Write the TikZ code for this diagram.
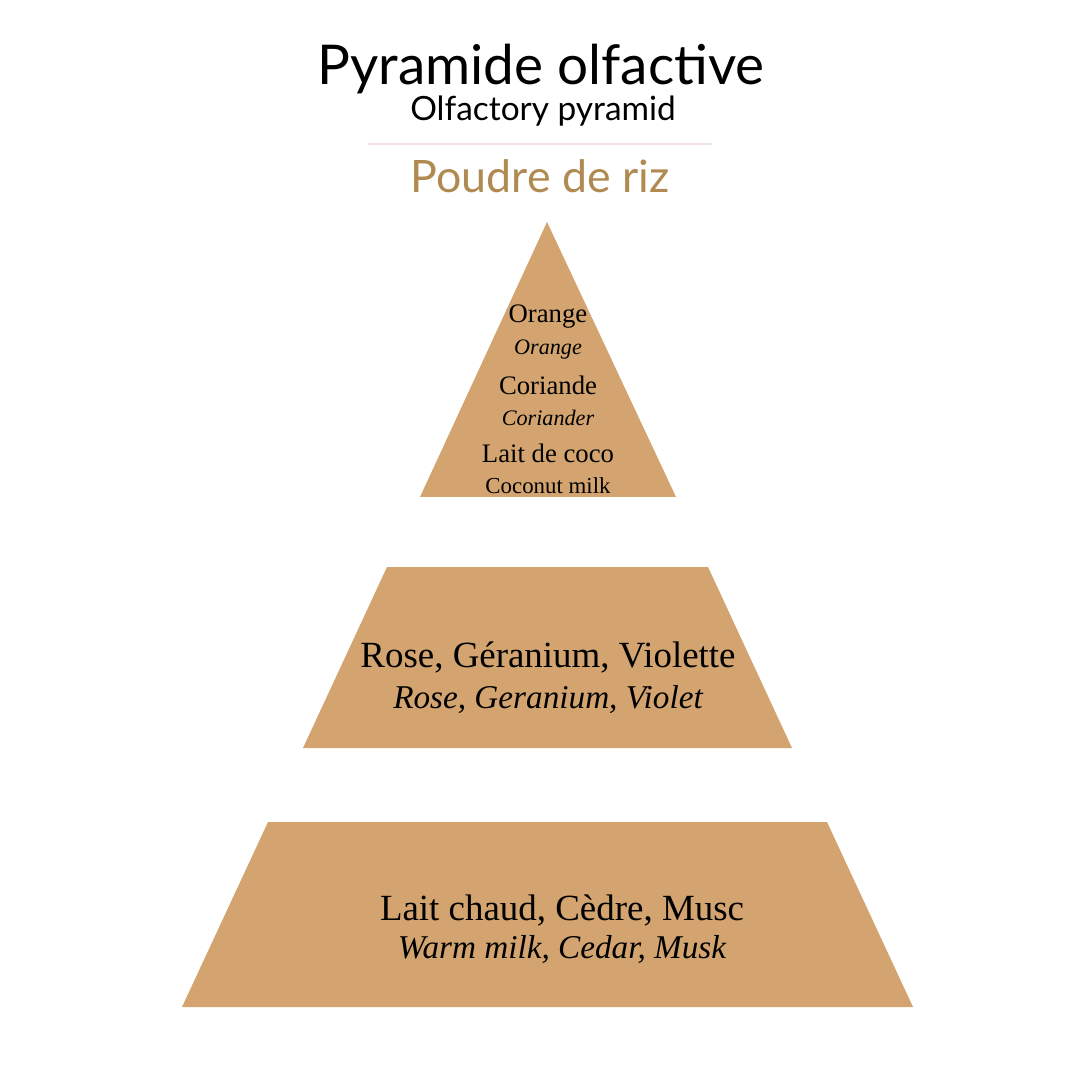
\documentclass[tikz,border=0pt]{standalone}
\usepackage{fontspec}
\setmainfont{Liberation Serif}
\newfontfamily\headfont{Lato}
\usepackage{tikz}
\usetikzlibrary{positioning}
\definecolor{sand}{HTML}{D3A46F}
\definecolor{gold}{HTML}{B08A50}
\definecolor{rule}{HTML}{F2E4E4}

\begin{document}
\begin{tikzpicture}[
  x=0.01cm, y=-0.01cm,
  layer/.style={fill=sand, draw=none},
  title/.style={font=\headfont\fontsize{15.6}{15.6}\selectfont},
  subtitle/.style={font=\headfont\fontsize{9.5}{9.5}\selectfont},
  perfume/.style={font=\headfont\fontsize{12.7}{12.7}\selectfont, text=gold},
  note/.style={font=\fontsize{7.6}{7.6}\selectfont, inner sep=0pt},
  notetr/.style={font=\itshape\fontsize{6.3}{6.3}\selectfont, inner sep=0pt},
  bignote/.style={font=\fontsize{10.5}{10.5}\selectfont, inner sep=0pt},
  bignotetr/.style={font=\itshape\fontsize{9.45}{9.45}\selectfont, inner sep=0pt}
]
  % ── canvas ──
  \fill[white] (0,0) rectangle (1080,1080);
  \useasboundingbox (0,0) rectangle (1080,1080);

  % ── heading ──
  \node[title] (ttl) at (541,69) {Pyramide olfactive};
  \node[subtitle] (sub) at (543,111) {Olfactory pyramid};
  \draw[rule, line width=0.4pt] (368,144) -- (712,144);
  \node[perfume] (name) at (540,176) {Poudre de riz};

  % ── layers ──
  \fill[layer] (547,222) -- (676,497) -- (420,497) -- cycle;
  \fill[layer] (387,567) -- (708,567) -- (792,748) -- (303,748) -- cycle;
  \fill[layer] (268,822) -- (827,822) -- (913,1007) -- (182,1007) -- cycle;

  % ── top notes ──
  \node[note] (t1) at (548,317) {Orange};
  \node[notetr] (t1e) at (548,350) {Orange};
  \node[note] (t2) at (548,385) {Coriande};
  \node[notetr] (t2e) at (548,418) {Coriander};
  \node[note] (t3) at (548,453) {Lait de coco};
  \node[note, font=\fontsize{6.5}{6.5}\selectfont] (t3e) at (548,486) {Coconut milk};

  % ── heart notes ──
  \node[bignote] (h1) at (548,657) {Rose, Géranium, Violette};
  \node[bignotetr] (h1e) at (548,700) {Rose, Geranium, Violet};

  % ── base notes ──
  \node[bignote] (b1) at (562,910) {Lait chaud, Cèdre, Musc};
  \node[bignotetr] (b1e) at (562,950) {Warm milk, Cedar, Musk};
\end{tikzpicture}
\end{document}
